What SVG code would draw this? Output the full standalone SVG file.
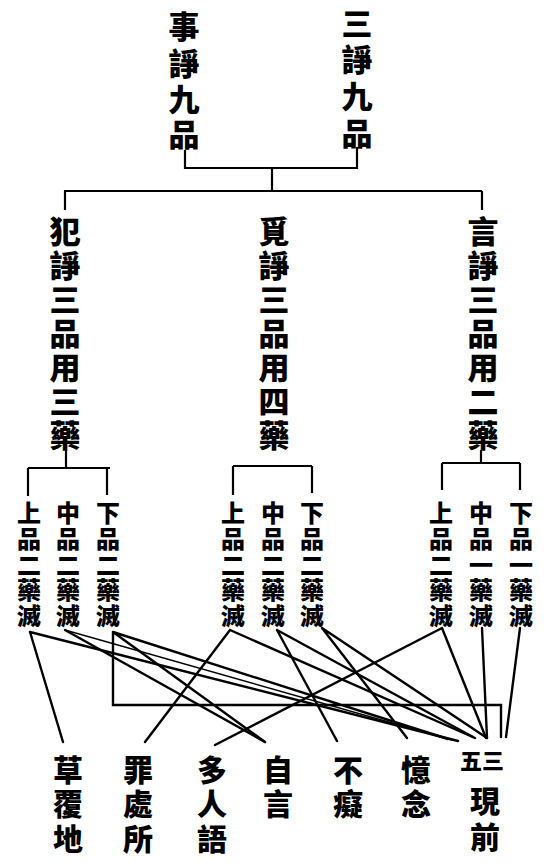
<svg xmlns="http://www.w3.org/2000/svg" width="554" height="866" viewBox="0 0 554 866">
<style>
.t{font-family:"Noto Sans CJK TC","Noto Sans CJK SC","Noto Sans CJK JP",sans-serif;font-weight:900;fill:#000;text-anchor:middle}
.h{font-size:31px}
.m{font-size:31px}
.s{font-size:24px}
.b{font-size:30px}
.br{fill:none;stroke:#000;stroke-width:2.2}
.c{fill:none;stroke:#000;stroke-width:2.4;stroke-linecap:round}
.c2{fill:none;stroke:#000;stroke-width:1.4}
</style>
<rect width="554" height="866" fill="#fff"/>
<g id="n-shizheng" class="t h"><text><tspan x="184" y="38">事</tspan><tspan x="184" y="75">諍</tspan><tspan x="184" y="111">九</tspan><tspan x="184" y="146">品</tspan></text></g>
<g id="n-sanzheng" class="t h"><text><tspan x="357" y="35">三</tspan><tspan x="357" y="71">諍</tspan><tspan x="357" y="108">九</tspan><tspan x="357" y="145">品</tspan></text></g>
<g id="n-fanzheng" class="t m"><text><tspan x="65" y="243">犯</tspan><tspan x="65" y="277">諍</tspan><tspan x="65" y="311">三</tspan><tspan x="65" y="345">品</tspan><tspan x="65" y="379">用</tspan><tspan x="65" y="413">三</tspan><tspan x="65" y="447">藥</tspan></text></g>
<g id="n-mizheng" class="t m"><text><tspan x="274" y="243">覓</tspan><tspan x="274" y="277">諍</tspan><tspan x="274" y="311">三</tspan><tspan x="274" y="345">品</tspan><tspan x="274" y="379">用</tspan><tspan x="274" y="413">四</tspan><tspan x="274" y="447">藥</tspan></text></g>
<g id="n-yanzheng" class="t m"><text><tspan x="483" y="243">言</tspan><tspan x="483" y="277">諍</tspan><tspan x="483" y="311">三</tspan><tspan x="483" y="345">品</tspan><tspan x="483" y="379">用</tspan><tspan x="483" y="413">二</tspan><tspan x="483" y="447">藥</tspan></text></g>
<g id="leaf-f1" class="t s"><text><tspan x="29" y="522">上</tspan><tspan x="29" y="548">品</tspan><tspan x="29" y="574">二</tspan><tspan x="29" y="599">藥</tspan><tspan x="29" y="625">滅</tspan></text></g>
<g id="leaf-f2" class="t s"><text><tspan x="68" y="522">中</tspan><tspan x="68" y="548">品</tspan><tspan x="68" y="574">二</tspan><tspan x="68" y="599">藥</tspan><tspan x="68" y="625">滅</tspan></text></g>
<g id="leaf-f3" class="t s"><text><tspan x="108" y="522">下</tspan><tspan x="108" y="548">品</tspan><tspan x="108" y="574">二</tspan><tspan x="108" y="599">藥</tspan><tspan x="108" y="625">滅</tspan></text></g>
<g id="leaf-m1" class="t s"><text><tspan x="233" y="522">上</tspan><tspan x="233" y="548">品</tspan><tspan x="233" y="574">二</tspan><tspan x="233" y="599">藥</tspan><tspan x="233" y="625">滅</tspan></text></g>
<g id="leaf-m2" class="t s"><text><tspan x="273" y="522">中</tspan><tspan x="273" y="548">品</tspan><tspan x="273" y="574">二</tspan><tspan x="273" y="599">藥</tspan><tspan x="273" y="625">滅</tspan></text></g>
<g id="leaf-m3" class="t s"><text><tspan x="312" y="522">下</tspan><tspan x="312" y="548">品</tspan><tspan x="312" y="574">二</tspan><tspan x="312" y="599">藥</tspan><tspan x="312" y="625">滅</tspan></text></g>
<g id="leaf-y1" class="t s"><text><tspan x="441" y="522">上</tspan><tspan x="441" y="548">品</tspan><tspan x="441" y="574">二</tspan><tspan x="441" y="599">藥</tspan><tspan x="441" y="625">滅</tspan></text></g>
<g id="leaf-y2" class="t s"><text><tspan x="481" y="522">中</tspan><tspan x="481" y="548">品</tspan><tspan x="481" y="574">一</tspan><tspan x="481" y="599">藥</tspan><tspan x="481" y="625">滅</tspan></text></g>
<g id="leaf-y3" class="t s"><text><tspan x="521" y="522">下</tspan><tspan x="521" y="548">品</tspan><tspan x="521" y="574">一</tspan><tspan x="521" y="599">藥</tspan><tspan x="521" y="625">滅</tspan></text></g>
<g id="r-caofudi" class="t b"><text><tspan x="68" y="781">草</tspan><tspan x="68" y="815">覆</tspan><tspan x="68" y="850">地</tspan></text></g>
<g id="r-zuichusuo" class="t b"><text><tspan x="138" y="781">罪</tspan><tspan x="138" y="815">處</tspan><tspan x="138" y="850">所</tspan></text></g>
<g id="r-duorenyu" class="t b"><text><tspan x="212" y="781">多</tspan><tspan x="212" y="815">人</tspan><tspan x="212" y="850">語</tspan></text></g>
<g id="r-ziyan" class="t b"><text><tspan x="278" y="781">自</tspan><tspan x="278" y="815">言</tspan></text></g>
<g id="r-buchi" class="t b"><text><tspan x="348" y="781">不</tspan><tspan x="348" y="815">癡</tspan></text></g>
<g id="r-yinian" class="t b"><text><tspan x="416" y="781">憶</tspan><tspan x="416" y="815">念</tspan></text></g>
<g id="r-xianqian" class="t"><text style="font-size:22px;text-anchor:start" x="460" y="769">五三</text><text class="b"><tspan x="485" y="812">現</tspan><tspan x="485" y="848">前</tspan></text></g>
<g id="connectors">
<path class="br" d="M185,150 V168 H357 V147 M272,168 V191 M64,191 H482 M65,191 V210 M482,191 V210"/>
<path class="br" d="M66,450 V468 M28,468 H110 M28,468 V496 M107,468 V495"/>
<path class="br" d="M233,466 H312 M233,466 V495 M312,466 V493"/>
<path class="br" d="M481,450 V463 M442,463 H520 M442,463 V490 M520,463 V490"/>
<path class="c" d="M30,632 L63,742 M30,632 L458,741"/>
<path class="c2" d="M65,630 L452,740"/>
<path class="c" d="M65,630 L265,742"/>
<path class="c" d="M113,632 L448,739 M113,632 L265,742 M113,632 V705 H501 V737"/>
<path class="c" d="M230,630 L145,742 M230,630 L475,738"/>
<path class="c" d="M277,630 L337,741 M277,630 L473,737"/>
<path class="c" d="M322,628 L407,738 M322,628 L487,738"/>
<path class="c" d="M442,628 L215,745 M442,628 L486,738"/>
<path class="c" d="M482,628 L487,738 M520,628 L506,737"/>
</g>
</svg>
